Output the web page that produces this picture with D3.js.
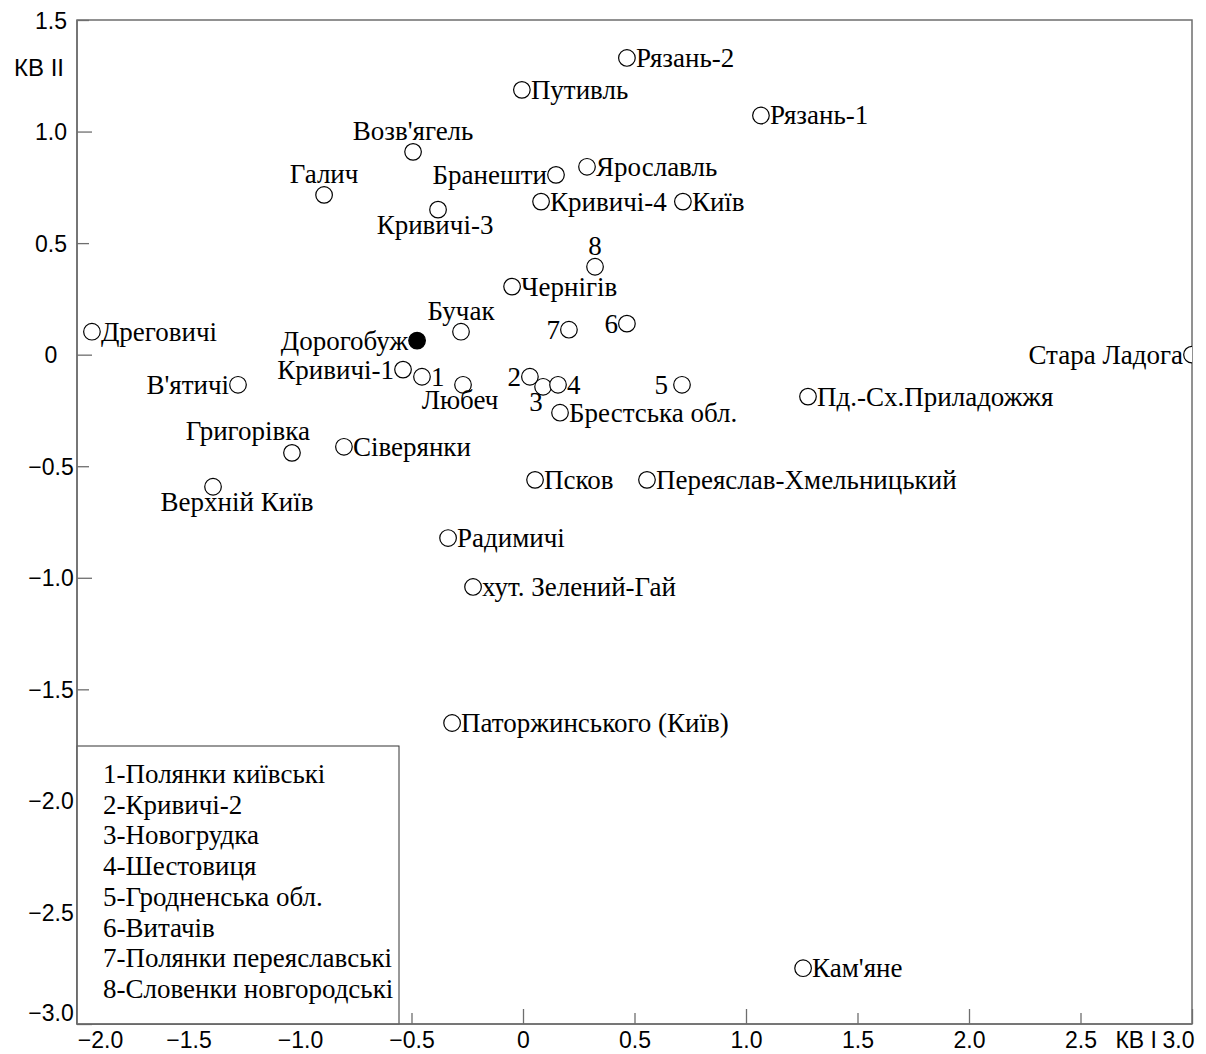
<!DOCTYPE html>
<html><head><meta charset="utf-8">
<script src="https://cdn.jsdelivr.net/npm/d3@7"></script>
<style>body{margin:0;background:#fff}svg{display:block}</style>
</head><body><svg id="c" width="1206" height="1054"></svg>
<script>
// ---- data ----
const names = ["Рязань-2","Путивль","Рязань-1","Возв'ягель","Галич","Бранешти","Ярославль","Кривичі-3","Кривичі-4","Київ","8","Чернігів","Дреговичі","В'ятичі","Григорівка","Верхній Київ","Дорогобуж","Бучак","Кривичі-1","1","Любеч","2","3","4","7","6","5","Брестська обл.","Сіверянки","Пд.-Сх.Приладожжя","Стара Ладога","Псков","Переяслав-Хмельницький","Радимичі","хут. Зелений-Гай","Паторжинського (Київ)","Кам'яне"];
const kv1 = [0.466,-0.005,1.067,-0.493,-0.892,0.148,0.287,-0.381,0.081,0.717,0.323,-0.049,-1.933,-1.278,-1.036,-1.390,-0.475,-0.278,-0.538,-0.453,-0.269,0.031,0.090,0.157,0.206,0.466,0.713,0.166,-0.803,1.278,3.000,0.054,0.556,-0.336,-0.224,-0.318,1.256];
const kv2 = [1.330,1.187,1.072,0.909,0.716,0.806,0.842,0.650,0.686,0.686,0.394,0.305,0.103,-0.135,-0.440,-0.592,0.063,0.103,-0.067,-0.099,-0.135,-0.099,-0.144,-0.135,0.112,0.139,-0.135,-0.260,-0.413,-0.188,0.000,-0.561,-0.561,-0.822,-1.041,-1.651,-2.750];
const markerType = names.map(n => n === "Дорогобуж" ? "filled" : "open");
const labelSide = ["right","right","right","top","top","left","right","bottom","right","right","top","right","right","left","topleft","bottomright","left","top","left","right","bottom","left","bottomleft","right","left","left","leftfar","right","right","right","left","right","right","right","right","right","right"];
const legendItems = ["1-Полянки київські","2-Кривичі-2","3-Новогрудка","4-Шестовиця","5-Гродненська обл.","6-Витачів","7-Полянки переяславські","8-Словенки новгородські"];
const xTicks = [-2,-1.5,-1,-0.5,0,0.5,1,1.5,2,2.5,3];
const yTicks = [1.5,1,0.5,0,-0.5,-1,-1.5,-2,-2.5,-3];
const xTitle = "КВ I", yTitle = "КВ II";

// ---- layout ----
const svg = d3.select("#c");
const L = 77, R = 1192, T = 20, B = 1024;
const x = d3.scaleLinear().domain([-2,3]).range([L,R]);
const y = d3.scaleLinear().domain([-3,1.5]).range([B,T]);
const axisColor = "#6e6e6e";
const sans = "'Liberation Sans', Arial, sans-serif";
const serif = "'Liberation Serif', 'Times New Roman', serif";
const fmt = d => d === 0 ? "0" : d3.format(".1f")(d);
const isMajor = d => Math.abs(d - Math.round(d)) < 1e-9;

// frame
svg.append("rect").attr("x",L).attr("y",T).attr("width",R-L).attr("height",B-T)
  .attr("fill","none").attr("stroke",axisColor).attr("stroke-width",1.5);

// x axis
const gx = svg.append("g").attr("transform",`translate(0,${B})`)
  .call(d3.axisBottom(x).tickValues(xTicks).tickFormat(fmt).tickSizeOuter(0).tickSize(-15).tickPadding(0));
gx.select(".domain").remove();
gx.selectAll(".tick line").attr("stroke",axisColor).attr("stroke-width",1.3)
  .attr("y2", d => isMajor(d) ? -15 : -11);
gx.selectAll(".tick text").attr("font-family",sans).attr("font-size",23).attr("fill","#000")
  .attr("y",8).attr("dy","0.71em")
  .attr("dx", d => d === -2 ? 23 : (d === 3 ? -14 : 0));

// y axis
const gy = svg.append("g").attr("transform",`translate(${L},0)`)
  .call(d3.axisLeft(y).tickValues(yTicks).tickFormat(fmt).tickSizeOuter(0).tickSize(-15).tickPadding(0));
gy.select(".domain").remove();
gy.selectAll(".tick line").attr("stroke",axisColor).attr("stroke-width",1.3)
  .attr("x2", d => isMajor(d) ? 15 : 12);
gy.selectAll(".tick text").attr("font-family",sans).attr("font-size",23).attr("fill","#000")
  .attr("text-anchor","middle").attr("x",-26).attr("dy", d => d === -3 ? "-0.17em" : "0.35em");

// axis titles
svg.append("text").attr("x",1157).attr("y",1048).attr("text-anchor","end")
  .attr("font-family",sans).attr("font-size",23).text(xTitle);
svg.append("text").attr("x",64).attr("y",76).attr("text-anchor","end")
  .attr("font-family",sans).attr("font-size",24).text(yTitle);

// points
svg.append("clipPath").attr("id","plotclip").append("rect")
  .attr("x",L).attr("y",T).attr("width",R-L).attr("height",B-T);
const pts = names.map((n,i)=>({name:n, x:kv1[i], y:kv2[i], m:markerType[i], side:labelSide[i]}));
svg.append("g").attr("clip-path","url(#plotclip)").selectAll("circle").data(pts).join("circle")
  .attr("cx",d=>x(d.x)).attr("cy",d=>y(d.y)).attr("r",8.3)
  .attr("fill",d=>d.m==="filled"?"#000":"#fff").attr("stroke","#000").attr("stroke-width",1.2);

const place = {
  right:{a:"start",dx:9,dy:9}, left:{a:"end",dx:-9,dy:9}, leftfar:{a:"end",dx:-14,dy:9},
  top:{a:"middle",dx:0,dy:-12}, bottom:{a:"middle",dx:-3,dy:24},
  topleft:{a:"end",dx:18,dy:-13}, bottomright:{a:"middle",dx:24,dy:24}, bottomleft:{a:"middle",dx:-7,dy:24}
};
svg.append("g").selectAll("text").data(pts).join("text")
  .attr("x",d=>x(d.x)+place[d.side].dx).attr("y",d=>y(d.y)+place[d.side].dy)
  .attr("text-anchor",d=>place[d.side].a)
  .attr("font-family",serif).attr("font-size",27).attr("fill","#000")
  .text(d=>d.name);

// legend
const lg = svg.append("g");
lg.append("rect").attr("x",L).attr("y",746).attr("width",399-L).attr("height",B-746)
  .attr("fill","#fff").attr("stroke","#333").attr("stroke-width",1);
lg.selectAll("text").data(legendItems).join("text")
  .attr("x",103).attr("y",(d,i)=>783+i*30.7)
  .attr("font-family",serif).attr("font-size",27).attr("fill","#000").text(d=>d);

// redraw frame edges over legend
svg.append("line").attr("x1",L).attr("x2",L).attr("y1",T).attr("y2",B).attr("stroke",axisColor).attr("stroke-width",1.5);
svg.append("line").attr("x1",L).attr("x2",R).attr("y1",B).attr("y2",B).attr("stroke",axisColor).attr("stroke-width",1.5);
</script></body></html>
